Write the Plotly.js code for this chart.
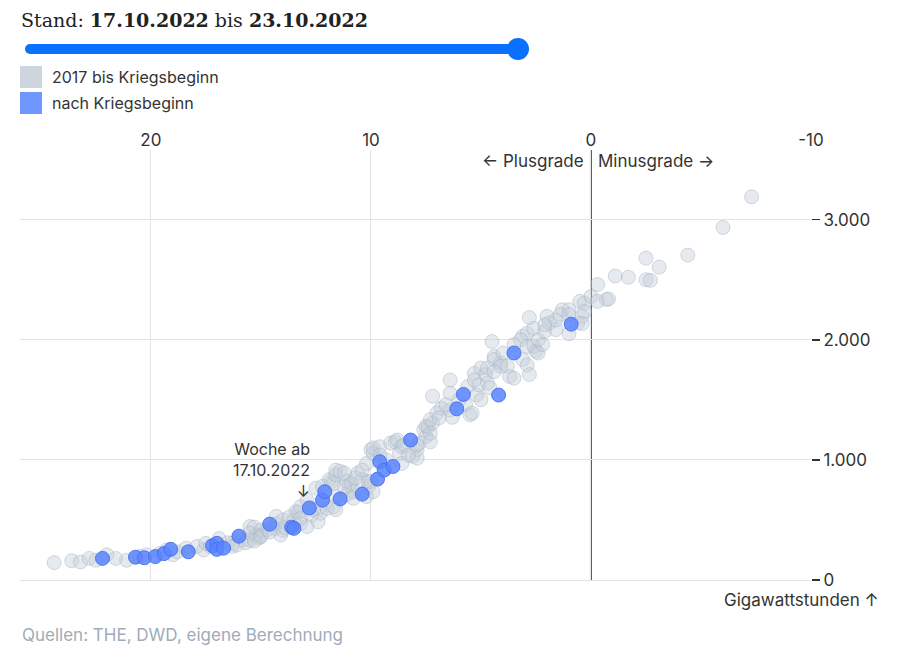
<!DOCTYPE html>
<html>
<head>
<meta charset="utf-8">
<script src="https://cdn.plot.ly/plotly-3.0.1.min.js"></script>
<style>
  html, body { margin: 0; padding: 0; background: #fff; }
  #chart { width: 900px; height: 650px; }
</style>
</head>
<body>
<div id="chart"></div>
<script>
// weekly mean temperature (°C) vs. gas use (GWh), 2017 until start of the war
const grayTemp = [
  24.4, 23.6, 23.2, 22.8, 22.5, 22.0, 21.6, 21.1, 20.5, 20.2, 19.6, 19.3, 19.0, 18.8, 18.4, 17.9,
  17.6, 17.5, 17.3, 16.9, 16.5, 16.3, 16.3, 15.8, 15.5, 15.5, 15.2, 15.1, 15.3, 15.5, 15.0, 15.0,
  14.7, 14.3, 14.1, 14.3, 14.4, 14.0, 14.0, 13.7, 13.5, 13.4, 13.3, 13.2, 13.2, 12.9, 12.9, 12.6,
  12.5, 12.3, 12.3, 12.2, 12.0, 11.9, 11.8, 11.7, 11.7, 11.6, 11.6, 11.6, 11.6, 11.4, 11.2, 11.1,
  11.1, 11.0, 10.9, 10.8, 10.8, 10.6, 10.4, 10.2, 10.2, 10.1, 10.1, 10.0, 10.0, 9.9, 9.9, 9.9,
  9.6, 9.3, 9.1, 8.9, 8.8, 8.7, 8.6, 8.6, 8.1, 7.9, 7.9, 7.9, 7.8, 7.6, 7.5, 7.5, 7.4, 7.3, 7.3,
  7.2, 7.2, 7.0, 6.8, 6.4, 6.4, 6.4, 6.3, 5.7, 5.6, 5.5, 5.4, 5.3, 5.2, 5.1, 5.0, 5.0, 4.8, 4.7,
  4.7, 4.6, 4.5, 4.4, 4.4, 4.1, 4.1, 4.0, 3.8, 3.7, 3.5, 3.1, 3.1, 2.9, 2.9, 2.9, 2.8, 2.6, 2.6,
  2.5, 2.4, 2.4, 2.2, 2.1, 2.0, 1.9, 1.6, 1.3, 1.0, 1.0, 0.6, 0.5, 0.4, 0.4, 0.3, 0.3, 0.0,
  -0.3, -0.3, -0.7, -0.8, -1.1, -1.7, -2.5, -2.5, -2.7, -3.1, -4.4, -6.0, -7.3,
  16.1, 15.7, 15.3, 15.0, 14.6, 13.9, 13.2, 12.7, 12.4, 11.2, 10.7, 10.4, 9.6, 8.5, 8.3, 7.3,
  6.9, 6.6, 6.0, 5.3, 4.4, 3.5, 3.2, 2.8, 2.1, 1.6, 1.4, 1.0
];
const grayGwh = [
  145, 160, 150, 180, 165, 210, 180, 165, 195, 210, 220, 250, 210, 235, 265, 280,
  250, 305, 280, 345, 310, 305, 280, 335, 330, 445, 375, 350, 440, 390, 415, 375,
  420, 470, 375, 530, 430, 500, 415, 525, 500, 570, 565, 470, 610, 445, 665, 585,
  765, 610, 555, 780, 595, 835, 820, 805, 610, 915, 875, 695, 585, 905, 890, 820,
  710, 790, 805, 735, 680, 890, 835, 970, 695, 780, 820, 1085, 820, 1055, 735, 1100,
  1110, 1000, 1140, 1150, 1165, 1055, 970, 1110, 1030, 1085, 1125, 1015, 1140, 1250, 1195, 1280, 1275, 1220, 1150,
  1530, 1305, 1390, 1430, 1555, 1415, 1665, 1355, 1460, 1610, 1375, 1390, 1720, 1540, 1625, 1765, 1500, 1710, 1640,
  1765, 1600, 1985, 1860, 1835, 1805, 1780, 1890, 1780, 1695, 1680, 1835, 2030, 1945, 2055, 1790, 1710, 2095, 1945,
  1905, 2000, 1890, 1960, 2070, 2195, 2140, 2085, 2250, 2250, 2050, 2140, 2320, 2195, 2135, 2305, 2235, 2360,
  2460, 2320, 2335, 2340, 2530, 2520, 2680, 2500, 2495, 2605, 2705, 2935, 3190,
  290, 310, 325, 360, 400, 435, 515, 540, 485, 775, 850, 915, 1040, 1125, 1040, 1335,
  1350, 1460, 1500, 1665, 1735, 1960, 2000, 2185, 2125, 2165, 2210, 2210
];

// weeks since the start of the war
const blueTemp = [
  22.2, 20.7, 20.3, 19.8, 19.4, 19.1, 18.3, 17.2, 17.0, 17.0, 16.7, 16.0, 14.6, 13.6, 13.5,
  12.8, 12.2, 12.1, 11.4, 10.4, 9.7, 9.6, 9.4, 9.0, 8.2, 6.1, 5.8, 4.2, 3.5, 0.9
];
const blueGwh = [
  180, 190, 185, 195, 220, 255, 235, 285, 305, 255, 265, 365, 465, 440, 430,
  600, 665, 735, 675, 715, 840, 985, 915, 945, 1165, 1425, 1545, 1540, 1890, 2130
];

// the week that is called out
const markTemp = 12.8;
const markGwh = 600;

const xTickVals = [20, 10, 0, -10];
const xTickText = ["20", "10", "0", "-10"];
const yTickVals = [0, 1000, 2000, 3000];
const yTickText = ["0", "1.000", "2.000", "3.000"];

const ink = "#333";
const grid = "#e4e4e4";
const sans = "Inter, sans-serif";

// page pixels -> paper coords (plot area: x 20..811, y 150..580)
const px = (x) => (x - 20) / 791;
const py = (y) => (580 - y) / 430;

const traces = [
  {
    x: grayTemp,
    y: grayGwh,
    type: "scatter",
    mode: "markers",
    hoverinfo: "skip",
    marker: {
      size: 14,
      color: "rgba(196,206,217,0.42)",
      line: { color: "rgba(160,175,192,0.45)", width: 1 },
    },
  },
  {
    x: blueTemp,
    y: blueGwh,
    type: "scatter",
    mode: "markers",
    hoverinfo: "skip",
    marker: {
      size: 14,
      color: "rgba(88,132,255,0.85)",
      line: { color: "rgba(70,112,240,0.9)", width: 1 },
    },
  },
];

const shapes = [
  // zero line
  { type: "line", xref: "x", yref: "paper", x0: 0, x1: 0, y0: 0, y1: 1, line: { color: "#5a5a5a", width: 2 }, layer: "below" },
  // slider
  { type: "line", xref: "paper", yref: "paper", x0: px(30), x1: px(518), y0: py(49), y1: py(49), line: { color: "#0a70ff", width: 10 } },
  { type: "circle", xref: "paper", yref: "paper", x0: px(25), x1: px(35), y0: py(54), y1: py(44), fillcolor: "#0a70ff", line: { width: 0 } },
  { type: "circle", xref: "paper", yref: "paper", x0: px(507), x1: px(529), y0: py(60), y1: py(38), fillcolor: "#0a70ff", line: { width: 0 } },
  // legend keys
  { type: "rect", xref: "paper", yref: "paper", x0: px(20), x1: px(42), y0: py(88), y1: py(66), fillcolor: "#cdd5de", line: { width: 0 } },
  { type: "rect", xref: "paper", yref: "paper", x0: px(20), x1: px(42), y0: py(114), y1: py(92), fillcolor: "#7096ff", line: { width: 0 } },
];

const txt = (size, color) => ({ family: sans, size: size || 17, color: color || ink });

const note = (x, y, text, extra) => ({
  xref: "paper", yref: "paper", x, y, text, showarrow: false,
  xanchor: "left", yanchor: "middle",
  font: txt(),
  ...extra,
});

const annotations = [
  note(px(19), py(20), "Stand: <b>17.10.2022</b> bis <b>23.10.2022</b>", {
    font: { family: "DejaVu Serif, serif", size: 19, color: "#222" },
  }),
  note(px(50), py(77), "2017 bis Kriegsbeginn", { font: txt(16) }),
  note(px(50), py(103), "nach Kriegsbeginn", { font: txt(16) }),
  { xref: "x", yref: "paper", x: 0, y: py(161), text: "← Plusgrade", xanchor: "right", yanchor: "middle", xshift: -5, showarrow: false, font: txt() },
  { xref: "x", yref: "paper", x: 0, y: py(161), text: "Minusgrade →", xanchor: "left", yanchor: "middle", xshift: 5, showarrow: false, font: txt() },
  {
    xref: "x", yref: "y", x: markTemp, y: markGwh, text: "Woche ab<br>17.10.2022<br>↓",
    showarrow: false, xanchor: "right", yanchor: "middle", align: "right",
    xshift: 3, yshift: 38, font: txt(16),
  },
  note(px(881), py(600), "Gigawattstunden ↑", { xanchor: "right" }),
  note(px(20), py(635), "Quellen: THE, DWD, eigene Berechnung", { font: txt(17, "#9eacba") }),
];

const layout = {
  width: 900,
  height: 650,
  margin: { l: 20, r: 89, t: 150, b: 70 },
  paper_bgcolor: "#fff",
  plot_bgcolor: "#fff",
  showlegend: false,
  font: txt(),
  xaxis: {
    range: [25.95, -10],
    side: "top",
    tickvals: xTickVals,
    ticktext: xTickText,
    showgrid: true,
    gridcolor: grid,
    zeroline: false,
    ticks: "",
    showline: false,
    tickfont: txt(),
    fixedrange: true,
  },
  yaxis: {
    range: [0, 3580],
    side: "right",
    tickvals: yTickVals,
    ticktext: yTickText,
    showgrid: true,
    gridcolor: grid,
    zeroline: true,
    zerolinecolor: grid,
    zerolinewidth: 1,
    ticks: "outside",
    ticklen: 8,
    tickwidth: 1.5,
    tickcolor: ink,
    showline: false,
    tickfont: txt(),
    fixedrange: true,
  },
  shapes,
  annotations,
};

Plotly.newPlot("chart", traces, layout, { displayModeBar: false, staticPlot: true });
</script>
</body>
</html>
